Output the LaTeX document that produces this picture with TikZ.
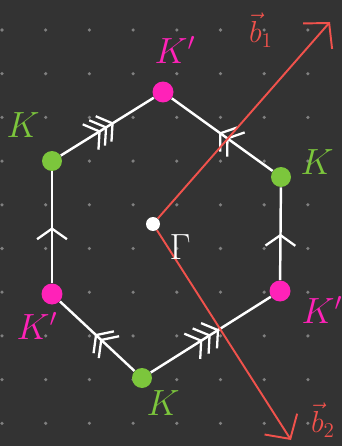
\documentclass[tikz,border=0pt]{standalone}
\usepackage{amsmath}
\usepackage{xcolor}
\usetikzlibrary{arrows.meta,decorations.markings}
\definecolor{board}{HTML}{333333}
\definecolor{kpink}{HTML}{FF22B8}
\definecolor{kgreen}{HTML}{7CC63C}
\definecolor{bred}{HTML}{F0524C}
\tikzset{
	griddot/.style={circle,fill=gray,inner sep=0pt,minimum size=2pt},
	kpt/.style={circle,fill=kgreen,inner sep=0pt,minimum size=0.4cm},
	kppt/.style={circle,fill=kpink,inner sep=0pt,minimum size=0.42cm},
	edge/.style={draw=white,line width=1.4pt},
	chev/.tip={Straight Barb[length=6pt,width=17pt,line width=1.3pt]},
	one/.style={postaction={decorate,decoration={markings,
		mark=at position 0.5 with {\arrow[white]{chev}}}}},
	two/.style={postaction={decorate,decoration={markings,
		mark=at position 0.46 with {\arrow[white]{chev}},
		mark=at position 0.53 with {\arrow[white]{chev}}}}},
	three/.style={postaction={decorate,decoration={markings,
		mark=at position 0.43 with {\arrow[white]{chev}},
		mark=at position 0.5 with {\arrow[white]{chev}},
		mark=at position 0.57 with {\arrow[white]{chev}}}}},
	vec/.style={draw=bred,line width=1.1pt,-{Straight Barb[length=10pt,width=22pt,line width=1.1pt]}}
}

\begin{document}
\begin{tikzpicture}[x=0.02cm,y=-0.02cm]
	\fill[board] (0,0) rectangle (342,446);
	\useasboundingbox (0,0) rectangle (342,446);
	% dotted paper
	\foreach \i in {0,...,7}
		\foreach \j in {0,...,9}
			\node[griddot] at ({2+43.7*\i},{30+43.7*\j}) {};
	% corners of the zone
	\node[kppt] (kp1) at (163,92) {};
	\node[kpt] (k1) at (281,177) {};
	\node[kppt] (kp2) at (280,291) {};
	\node[kpt] (k2) at (142,378) {};
	\node[kppt] (kp3) at (52,294) {};
	\node[kpt] (k3) at (52,161) {};
	\node[circle,fill=white,inner sep=0pt,minimum size=0.28cm] (g) at (153,224) {};
	\coordinate (b1) at (330,22);
	\coordinate (b2) at (291,440);
	% edges, glued in pairs
	\draw[edge,three] (k3) to (kp1);
	\draw[edge,two] (k1) to (kp1);
	\draw[edge,one] (kp2) to (k1);
	\draw[edge,three] (k2) to (kp2);
	\draw[edge,two] (k2) to (kp3);
	\draw[edge,one] (kp3) to (k3);
	% reciprocal vectors
	\draw[vec] (g) to (b1);
	\draw[vec] (g) to (b2);
	% labels
	\node[kpink] at (175,50) {\huge $K'$};
	\node[kgreen] at (23,125) {\huge $K$};
	\node[kgreen] at (317,162) {\huge $K$};
	\node[kpink] at (37,326) {\huge $K'$};
	\node[kpink] at (322,310) {\huge $K'$};
	\node[kgreen] at (163,403) {\huge $K$};
	\node[white] at (180,247) {\huge $\Gamma$};
	\node[bred,inner sep=1pt] at (261,30) {\LARGE $\vec{b}_1$};
	\node[bred,inner sep=1pt] at (323,420) {\LARGE $\vec{b}_2$};
\end{tikzpicture}
\end{document}
